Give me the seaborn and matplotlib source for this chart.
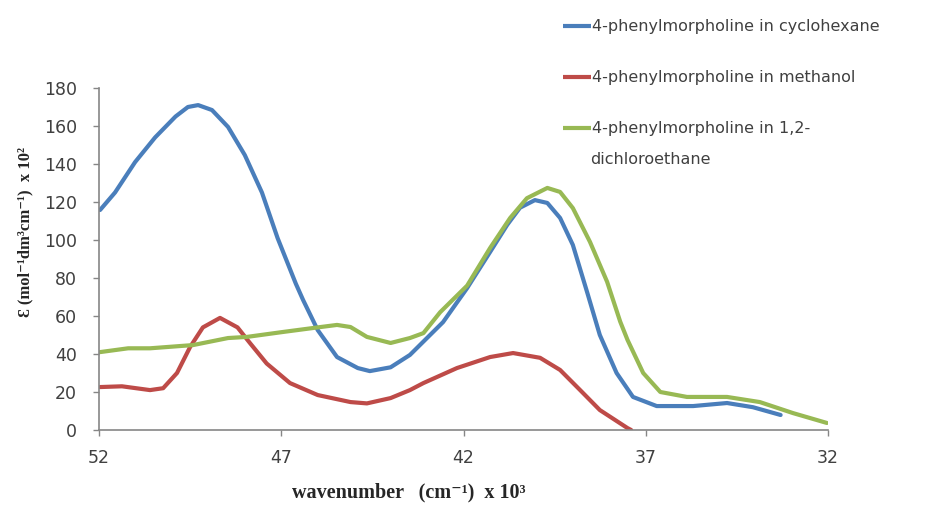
import numpy as np
import pandas as pd
import matplotlib
matplotlib.use("Agg")
import matplotlib.pyplot as plt
import seaborn as sns

# values (wavenumber x 10^3, epsilon x 10^2)
x_cyclo = [51.97, 51.56, 51.01, 50.46, 49.9, 49.56, 49.28, 48.9, 48.46, 48.0, 47.53, 47.1,
           46.6, 46.4, 46.0, 45.47, 44.9, 44.57, 44.0, 43.47, 42.56, 41.9, 41.27, 40.8,
           40.45, 40.04, 39.7, 39.35, 39.0, 38.6, 38.26, 37.8, 37.35, 36.7, 35.7, 34.77,
           34.06, 33.3]
y_cyclo = [115.8, 125, 141, 154, 165, 170, 171, 168.4, 159.5, 144.7, 125, 101,
           77, 68.4, 52.6, 38.4, 32.6, 31, 33, 39.5, 56.8, 74.7, 93.7, 108,
           117, 121, 119.5, 111.6, 97.4, 72, 50, 30, 17.4, 12.6, 12.6, 14.2,
           12, 7.9]

x_meth = [51.97, 51.37, 50.6, 50.24, 49.86, 49.5, 49.15, 48.68, 48.2, 47.86, 47.4, 46.76,
          46.0, 45.1, 44.65, 44.0, 43.47, 43.1, 42.18, 41.27, 40.64, 39.9, 39.35, 38.8,
          38.26, 37.5, 37.4]
y_meth = [22.6, 23, 21, 22, 30, 43.7, 54, 59, 54, 45.8, 35, 24.7,
          18.4, 14.7, 14, 16.8, 21, 24.7, 32.6, 38.4, 40.5, 38, 31.6, 21,
          10.5, 1, 0]

x_dce = [51.97, 51.2, 50.6, 49.42, 48.46, 47.94, 46.95, 46.0, 45.47, 45.1, 44.65, 44.0,
         43.47, 43.1, 42.64, 41.9, 41.27, 40.72, 40.26, 39.7, 39.35, 39.0, 38.53, 38.06,
         37.7, 37.5, 37.07, 36.6, 35.87, 34.77, 33.87, 32.96, 32.03]
y_dce = [41, 43, 43, 44.7, 48.4, 49, 51.6, 54, 55.3, 54.2, 49, 45.8,
         48.4, 51, 62, 76, 95.8, 111.6, 122, 127.4, 125.3, 116.8, 99, 78,
         57, 47.4, 30, 20, 17.4, 17.4, 14.7, 8.9, 3.7]

labels = ["4-phenylmorpholine in cyclohexane",
          "4-phenylmorpholine in methanol",
          "4-phenylmorpholine in 1,2-"]
colors = ["#4A7EBB", "#BE4B48", "#98B954"]

df = pd.concat([
    pd.DataFrame({"wn": x_cyclo, "eps": y_cyclo, "series": labels[0]}),
    pd.DataFrame({"wn": x_meth, "eps": y_meth, "series": labels[1]}),
    pd.DataFrame({"wn": x_dce, "eps": y_dce, "series": labels[2]}),
])

sns.set_style("white")
fig = plt.figure(figsize=(9.25, 5.11), dpi=100)
ax = fig.add_axes([99/925, 1-430/511, 729/925, 342/511])

sns.lineplot(data=df, x="wn", y="eps", hue="series", palette=colors,
             estimator=None, linewidth=3, ax=ax, legend=False)
for ln in ax.get_lines():
    ln.set_solid_joinstyle("round")
    ln.set_solid_capstyle("round")

ax.set_xlim(52, 32)
ax.set_ylim(0, 180)
ax.set_xticks([52, 47, 42, 37, 32])
ax.set_yticks(range(0, 181, 20))
ax.tick_params(axis="both", direction="out", length=4, width=1, color="#868686",
               labelsize=12.5, labelcolor="#404040", bottom=True, left=True)
ax.tick_params(axis="x", pad=10)
ax.tick_params(axis="y", pad=12)
for s in ["top", "right"]:
    ax.spines[s].set_visible(False)
for s in ["left", "bottom"]:
    ax.spines[s].set_color("#868686")
    ax.spines[s].set_linewidth(1.2)
ax.set_xlabel("")
ax.set_ylabel("")

serif = ["Liberation Serif", "DejaVu Serif"]
fig.text(409/925, 1-492/511, "wavenumber   (cm\u207b\u00b9)  x 10\u00b3", ha="center", va="center",
         fontsize=14.5, fontweight="bold", family=serif, color="#262626")
fig.text(25/925, 1-232/511, "\u0190 (mol\u207b\u00b9dm\u00b3cm\u207b\u00b9)  x 10\u00b2", ha="center", va="center",
         rotation=90, fontsize=12, fontweight="bold", family=serif, color="#262626")

handles = [plt.Line2D([], [], color=c, linewidth=3, solid_capstyle="butt") for c in colors]
leg = fig.legend(handles, labels, loc="upper left", bbox_to_anchor=(549/925, 1-5/511),
                 frameon=False, fontsize=11.5, handlelength=1.7, handletextpad=0.1,
                 labelspacing=2.25, labelcolor="#404040")
# second line of the third legend entry
fig.text(590/925, 1-160/511, "dichloroethane", ha="left", va="center",
         fontsize=11.5, color="#404040")

fig.savefig("out.png", dpi=100)
